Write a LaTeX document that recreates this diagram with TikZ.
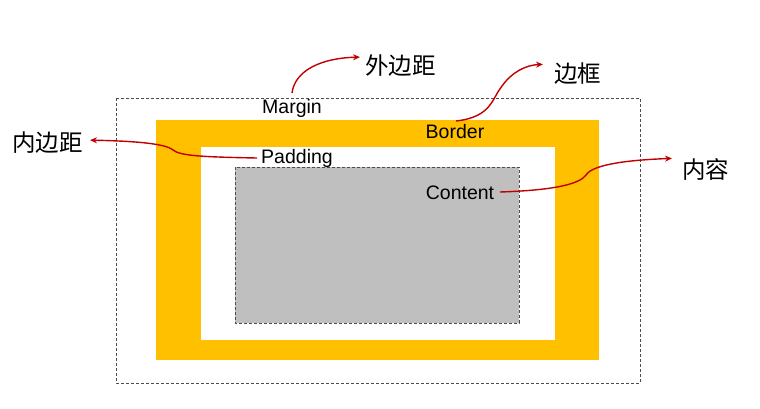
\documentclass[tikz,border=0pt]{standalone}
\usepackage{fontspec}
\setmainfont{Liberation Sans}
\newfontfamily\cjk{Noto Sans CJK SC}
\usetikzlibrary{arrows.meta}
\definecolor{borderorange}{HTML}{FFC000}
\definecolor{contentgray}{HTML}{BFBFBF}
\definecolor{arrowred}{HTML}{C00000}
\begin{document}
\begin{tikzpicture}[x=1pt,y=-1pt,
  lbl/.style={font=\fontsize{19.5}{22}\selectfont, inner sep=1pt},
  cn/.style={font=\cjk\fontsize{23.5}{26}\selectfont, inner sep=1pt},
  callout/.style={draw=arrowred, line width=1.4pt, -{Stealth[length=7pt,width=6pt]}}]
\useasboundingbox (0,0) rectangle (760,408);
% boxes
\draw[densely dashed, draw=black!70, line width=0.6pt] (116,98) rectangle (640,383);
\fill[borderorange] (156,120) rectangle (599,360);
\fill[white] (201,147) rectangle (555,340);
\draw[densely dashed, fill=contentgray, draw=black!70, line width=0.6pt] (235,167) rectangle (519,323);
% labels
\node[lbl] (mar) at (292,108) {Margin};
\node[lbl] (bor) at (455,132) {Border};
\node[lbl] (pad) at (297,158) {Padding};
\node[lbl] (con) at (460,193) {Content};
\node[cn, anchor=west] (wai) at (364,66) {外边距};
\node[cn, anchor=west] (bk) at (553,74) {边框};
\node[cn, anchor=east] (nei) at (84,143) {内边距};
\node[cn, anchor=west] (nr) at (681,170) {内容};
% connector ends
\coordinate (m0) at (292,93);
\coordinate (b0) at (456,121);
\coordinate (p0) at (257,158);
\coordinate (c0) at (500,192);
% arrows
\draw[callout, shorten >=4pt] (m0) .. controls (295,70) and (322,58) .. (wai.west |- 0,57);
\draw[callout, shorten >=10pt] (b0) .. controls (492,117) and (492,98) .. (502,86) .. controls (512,72) and (526,65) .. (bk.west |- 0,64);
\draw[callout, shorten >=6pt] (p0) .. controls (205,157) and (180,156) .. (173,150) .. controls (165,143) and (130,141) .. (nei.east |- 0,140);
\draw[callout, shorten >=9pt] (c0) .. controls (560,190) and (580,183) .. (586,175) .. controls (593,164) and (630,160) .. (nr.west |- 0,158);
\end{tikzpicture}
\end{document}
